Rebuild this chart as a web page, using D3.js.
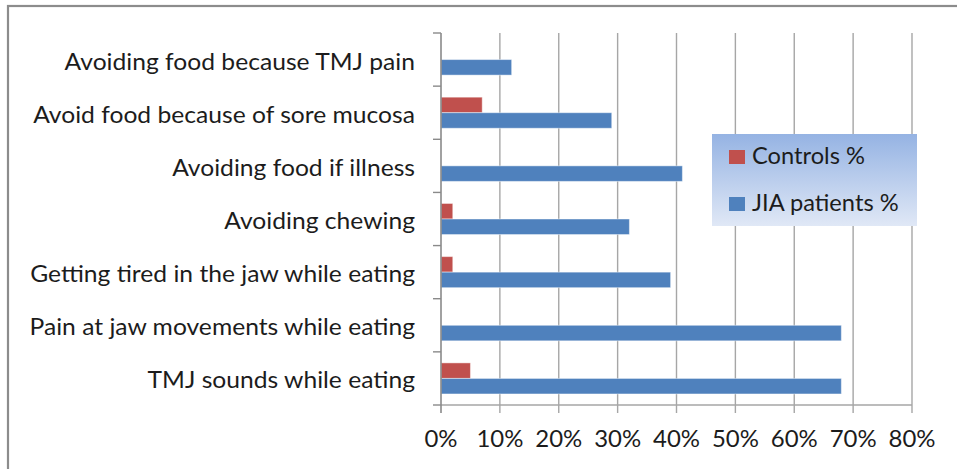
<!DOCTYPE html>
<html>
<head>
<meta charset="utf-8">
<script src="https://cdn.jsdelivr.net/npm/d3@7"></script>
<style>
  html, body { margin: 0; padding: 0; background: #ffffff; }
  svg { display: block; }
  text { font-family: Lato, "Open Sans", sans-serif; fill: #1c1c1c; }
</style>
</head>
<body>
<svg id="chart" width="957" height="469"></svg>
<script>
// Survey items, listed top to bottom
const categories = [
  "Avoiding food because TMJ pain",
  "Avoid food because of sore mucosa",
  "Avoiding food if illness",
  "Avoiding chewing",
  "Getting tired in the jaw while eating",
  "Pain at jaw movements while eating",
  "TMJ sounds while eating"
];
// Percentages per group, same order as categories
const controls = [0, 7, 0, 2, 2, 0, 5];
const jiaPatients = [12, 29, 41, 32, 39, 68, 68];
const seriesNames = ["Controls %", "JIA patients %"];
const seriesColors = ["#C0504D", "#4F81BD"];
const xTicks = [0, 10, 20, 30, 40, 50, 60, 70, 80];

const svg = d3.select("#chart");
const FONT = 23;
const plot = { left: 441, right: 912, top: 33, bottom: 405 };

// Outer chart frame
svg.append("rect")
  .attr("x", 8).attr("y", 6)
  .attr("width", 960).attr("height", 470)
  .attr("fill", "#ffffff")
  .attr("stroke", "#8c8c8c").attr("stroke-width", 2.2);

const x = d3.scaleLinear().domain([0, 80]).range([plot.left, plot.right]);
const y = d3.scaleBand().domain(categories).range([plot.top, plot.bottom]);
const ySub = d3.scaleBand().domain(seriesNames).range([0, y.bandwidth()])
  .paddingInner(0).paddingOuter(0.71);

// Vertical gridlines with ticks below the axis
const grid = svg.append("g").attr("class", "grid");
grid.selectAll("line")
  .data(xTicks.slice(1))
  .join("line")
  .attr("x1", d => x(d)).attr("x2", d => x(d))
  .attr("y1", plot.top).attr("y2", plot.bottom + 8)
  .attr("stroke", "#a6a6a6").attr("stroke-width", 1.4);

// Bars
const rows = categories.map((c, i) => ({ c, vals: [controls[i], jiaPatients[i]] }));
const barG = svg.append("g");
rows.forEach(r => {
  r.vals.forEach((v, s) => {
    if (v <= 0) return;
    barG.append("rect")
      .attr("x", x(0))
      .attr("y", y(r.c) + ySub(seriesNames[s]))
      .attr("width", x(v) - x(0))
      .attr("height", ySub.bandwidth())
      .attr("fill", seriesColors[s])
      .attr("stroke", "rgba(255,255,255,0.45)")
      .attr("stroke-width", 1);
  });
});

// Axis lines
svg.append("line")
  .attr("x1", plot.left).attr("x2", plot.right)
  .attr("y1", plot.bottom).attr("y2", plot.bottom)
  .attr("stroke", "#a6a6a6").attr("stroke-width", 1.4);
svg.append("line")
  .attr("x1", plot.left).attr("x2", plot.left)
  .attr("y1", plot.top).attr("y2", plot.bottom + 8)
  .attr("stroke", "#8a8a8a").attr("stroke-width", 1.6);

// Category boundary ticks on the left axis
const bounds = categories.map(c => y(c)).concat([plot.bottom]);
svg.append("g").selectAll("line")
  .data(bounds)
  .join("line")
  .attr("x1", plot.left - 8).attr("x2", plot.left)
  .attr("y1", d => d).attr("y2", d => d)
  .attr("stroke", "#8a8a8a").attr("stroke-width", 1.4);

// Horizontal squeeze factors, derived from one sample string per text group
function measure(str) {
  const t = svg.append("text").attr("font-size", FONT).text(str);
  const w = t.node().getComputedTextLength();
  t.remove();
  return w;
}
const labelSqueeze = 385 / measure(categories[4]);
const tickSqueeze = 47 / measure("80%");
const legendSqueeze = 113 / measure(seriesNames[0]);

function squeezedText(g, xPos, yPos, str, anchor, k) {
  return g.append("text")
    .attr("transform", `translate(${xPos},${yPos}) scale(${k},1)`)
    .attr("text-anchor", anchor)
    .attr("font-size", FONT)
    .text(str);
}

// Category labels
const labG = svg.append("g");
categories.forEach(c => {
  squeezedText(labG, 415, y(c) + y.bandwidth() / 2 + 10, c, "end", labelSqueeze);
});

// X tick labels
const tickG = svg.append("g");
xTicks.forEach(t => {
  squeezedText(tickG, x(t), 447, t + "%", "middle", tickSqueeze);
});

// Legend
const defs = svg.append("defs");
const grad = defs.append("linearGradient").attr("id", "legendFill")
  .attr("x1", 0).attr("y1", 0).attr("x2", 0).attr("y2", 1);
grad.append("stop").attr("offset", "0%").attr("stop-color", "#95b3e3");
grad.append("stop").attr("offset", "100%").attr("stop-color", "#e0e8f6");

const leg = svg.append("g");
leg.append("rect")
  .attr("x", 712).attr("y", 134)
  .attr("width", 205).attr("height", 92)
  .attr("fill", "url(#legendFill)");
const legRows = [164, 211];
seriesNames.forEach((n, i) => {
  leg.append("rect")
    .attr("x", 729).attr("y", legRows[i] - 14)
    .attr("width", 16).attr("height", 14)
    .attr("fill", seriesColors[i]);
  squeezedText(leg, 752, legRows[i], n, "start", legendSqueeze);
});
</script>
</body>
</html>
